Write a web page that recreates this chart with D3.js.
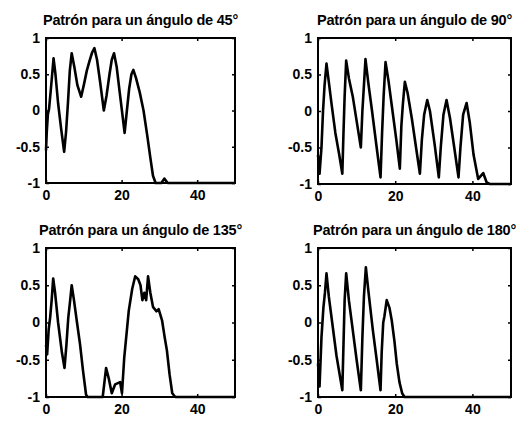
<!DOCTYPE html>
<html>
<head>
<meta charset="utf-8">
<script src="https://cdn.jsdelivr.net/npm/d3@7"></script>
<style>
  html, body { margin: 0; padding: 0; background: #fff; }
  svg { display: block; }
  text { font-family: "Liberation Sans", Arial, sans-serif; font-weight: bold; fill: #000; }
</style>
</head>
<body>
<svg id="chart" width="531" height="424"></svg>
<script>
// ---- data ----
const titles = [
  "Patrón para un ángulo de 45°",
  "Patrón para un ángulo de 90°",
  "Patrón para un ángulo de 135°",
  "Patrón para un ángulo de 180°"
];
const xTicks = [0, 20, 40];
const yTicks = [-1, -0.5, 0, 0.5, 1];
const yTickLabels = ["-1", "-0.5", "0", "0.5", "1"];

const x45 = [0,0.2,0.5,0.8,1.3,2.0,2.5,3.2,4.0,4.8,5.3,5.8,6.3,6.8,7.5,8.3,9.3,10.0,10.8,11.5,12.2,12.8,13.5,14.3,15.3,16.0,16.8,17.4,18.0,18.7,19.5,20.2,20.8,21.4,22.0,22.6,23.1,23.8,24.8,25.8,26.8,27.6,28.3,29.0,30.5,31.3,32.2,50];
const y45 = [-0.55,-0.3,-0.05,0.02,0.3,0.72,0.5,0.1,-0.25,-0.57,-0.3,0.1,0.55,0.79,0.6,0.35,0.19,0.35,0.55,0.68,0.8,0.86,0.7,0.4,0.0,0.2,0.5,0.7,0.79,0.6,0.25,-0.05,-0.31,0.0,0.3,0.5,0.56,0.45,0.25,0.0,-0.35,-0.65,-0.9,-1,-1,-0.94,-1,-1];

const x90 = [0,0.4,0.9,1.3,1.7,2.2,2.8,3.5,4.5,5.5,6.3,6.6,6.9,7.3,8.0,9.0,10.2,11.1,11.5,11.9,12.3,13.0,14.0,15.2,16.2,16.6,17.0,17.5,18.3,19.3,20.3,21.2,21.6,22.0,22.5,23.2,24.3,25.4,26.4,26.9,27.5,28.3,29.0,30.2,31.3,31.8,32.5,33.3,34.2,35.3,36.4,36.9,37.6,38.5,39.3,40.3,41.5,42.8,43.7,44.5,50];
const y90 = [-0.6,-0.86,-0.5,0.0,0.35,0.65,0.4,0.1,-0.3,-0.6,-0.86,-0.3,0.2,0.69,0.45,0.2,-0.2,-0.5,0.0,0.35,0.71,0.4,0.0,-0.5,-0.91,-0.3,0.2,0.67,0.4,0.0,-0.4,-0.79,-0.2,0.1,0.4,0.25,-0.1,-0.5,-0.86,-0.4,-0.05,0.15,0.0,-0.45,-0.91,-0.5,-0.05,0.15,-0.1,-0.5,-0.91,-0.5,-0.05,0.11,-0.15,-0.6,-0.93,-0.85,-0.98,-1,-1];

const x135 = [0,0.3,0.7,1.1,1.5,1.9,2.4,3.2,4.2,4.9,5.4,5.9,6.4,6.8,7.4,8.2,9.0,9.8,10.6,11.0,15.0,15.9,16.6,17.4,18.3,19.6,20.1,20.7,21.9,22.8,23.6,24.4,25.0,25.5,26.0,26.5,27.0,27.6,28.3,29.2,29.8,30.7,31.4,32.0,32.7,33.4,34.2,50];
const y135 = [-0.3,-0.43,-0.1,0.07,0.3,0.59,0.4,0.0,-0.4,-0.61,-0.3,0.07,0.3,0.5,0.3,0.0,-0.29,-0.65,-0.97,-1,-1,-0.61,-0.75,-0.95,-0.83,-0.8,-0.95,-0.47,0.16,0.45,0.62,0.58,0.5,0.3,0.4,0.3,0.62,0.4,0.21,0.15,0.18,0.03,-0.2,-0.38,-0.7,-0.95,-1,-1];

const x180 = [0,0.4,0.9,1.4,1.8,2.2,2.8,3.8,4.8,6.3,6.6,6.9,7.3,8.0,9.0,10.0,11.1,11.5,11.9,12.4,13.1,14.2,15.2,16.2,16.5,16.9,17.2,17.8,18.5,19.1,19.8,20.4,21.1,21.8,22.4,50];
const y180 = [-0.55,-0.86,-0.2,0.2,0.4,0.66,0.35,-0.05,-0.45,-0.91,-0.3,0.3,0.66,0.3,-0.1,-0.5,-0.91,-0.2,0.35,0.74,0.4,-0.1,-0.5,-0.91,-0.4,0.0,0.08,0.3,0.2,0.03,-0.25,-0.55,-0.8,-0.95,-1,-1];

const seriesX = [x45, x90, x135, x180];
const seriesY = [y45, y90, y135, y180];

// ---- layout ----
const panels = [
  {left: 46,  top: 38,  width: 189, height: 145},
  {left: 318, top: 38,  width: 193, height: 146},
  {left: 46,  top: 248, width: 189, height: 149},
  {left: 318, top: 248, width: 193, height: 149}
];

const svg = d3.select("#chart");

panels.forEach((p, i) => {
  const x = d3.scaleLinear().domain([0, 50]).range([0, p.width]);
  const y = d3.scaleLinear().domain([-1, 1]).range([p.height, 0]);
  const g = svg.append("g").attr("transform", `translate(${p.left},${p.top})`);

  const tl = 3;
  const bottom = d3.axisBottom(x).tickValues(xTicks).tickSizeInner(-tl).tickSizeOuter(0).tickPadding(7).tickFormat(d3.format("d"));
  const left = d3.axisLeft(y).tickValues(yTicks).tickSizeInner(-tl).tickSizeOuter(0).tickPadding(6)
    .tickFormat((d, k) => yTickLabels[k]);
  const top = d3.axisTop(x).tickValues(xTicks).tickSizeInner(-tl).tickSizeOuter(0).tickFormat("");
  const right = d3.axisRight(y).tickValues(yTicks).tickSizeInner(-tl).tickSizeOuter(0).tickFormat("");

  const gb = g.append("g").attr("transform", `translate(0,${p.height})`).call(bottom);
  const gl = g.append("g").call(left);
  const gt = g.append("g").call(top);
  const gr = g.append("g").attr("transform", `translate(${p.width},0)`).call(right);
  [gb, gl, gt, gr].forEach(a => {
    a.select(".domain").remove();
    a.selectAll(".tick line").attr("stroke", "#000").attr("stroke-width", 1.5);
    a.selectAll("text").style("font-size", "14px").style("font-weight", "bold")
      .style("font-family", '"Liberation Sans", Arial, sans-serif').attr("fill", "#000");
  });
  gb.selectAll("text").attr("dy", "0.71em");

  // box
  g.append("rect")
    .attr("x", 0).attr("y", 0)
    .attr("width", p.width).attr("height", p.height)
    .attr("fill", "none").attr("stroke", "#000").attr("stroke-width", 2);

  // curve
  const data = seriesX[i].map((xv, k) => [xv, seriesY[i][k]]);
  g.append("path")
    .datum(data)
    .attr("fill", "none")
    .attr("stroke", "#000")
    .attr("stroke-width", 2.6)
    .attr("stroke-linejoin", "round")
    .attr("d", d3.line().x(d => x(d[0])).y(d => y(d[1])));

  // title
  g.append("text")
    .attr("x", p.width / 2)
    .attr("y", -13)
    .attr("text-anchor", "middle")
    .style("font-size", "14.5px")
    .style("letter-spacing", "-0.2px")
    .text(titles[i]);
});
</script>
</body>
</html>
